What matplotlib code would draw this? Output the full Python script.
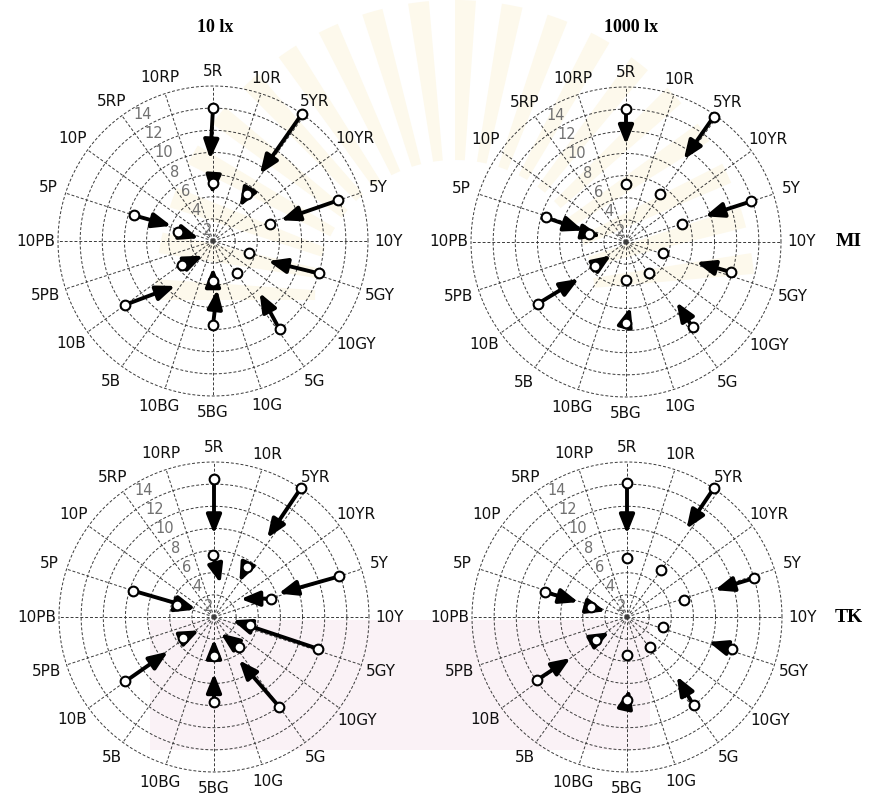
import numpy as np
import matplotlib
matplotlib.use("Agg")
import matplotlib.pyplot as plt
from matplotlib.patches import Wedge, Rectangle

# Munsell hue circle, clockwise from 5R at the top
hue_labels = ['5R', '10R', '5YR', '10YR', '5Y', '10Y', '5GY', '10GY', '5G', '10G',
              '5BG', '10BG', '5B', '10B', '5PB', '10PB', '5P', '10P', '5RP', '10RP']
chroma_rings = [2, 4, 6, 8, 10, 12, 14]

# samples: 8 high-chroma then 8 low-chroma; hue angle (deg) and chroma,
# at the physical sample (circle) and the perceived colour (arrow tip)
mi_10_start_hue = [90, 55, 18, -17, -53, -90, -144, 162, 90, 54, 17, -18, -53, -90, -142, 165]
mi_10_start_c = [12.0, 14.0, 11.9, 10.0, 10.0, 7.6, 9.8, 7.5, 5.2, 5.3, 5.4, 3.4, 3.6, 3.6, 3.5, 3.3]
mi_10_end_hue = [92, 55, 17, -20, -48, -85, -130, 160, 91, 52, 17, -18, -53, -90, -124, 169]
mi_10_end_c = [7.4, 7.4, 6.4, 5.3, 6.3, 4.4, 5.3, 4.0, 4.2, 3.9, 5.4, 3.4, 3.6, 2.4, 1.6, 1.3]

mi_1000_start_hue = [90, 55, 18, -16, -52, -90, -145, 163, 90, 55, 18, -17, -53, -90, -142, 167]
mi_1000_start_c = [12.0, 13.8, 11.9, 9.9, 9.8, 7.3, 9.7, 7.6, 5.2, 5.3, 5.3, 3.5, 3.5, 3.4, 3.5, 3.4]
mi_1000_end_hue = [90, 55, 18, -16, -50, -86, -142, 165, 90, 55, 18, -17, -53, -90, -138, 167]
mi_1000_end_c = [8.8, 9.1, 7.5, 6.6, 7.1, 5.9, 5.4, 4.0, 5.2, 5.3, 5.3, 3.5, 3.5, 3.4, 1.8, 2.3]

tk_10_start_hue = [90, 56, 18, -17, -54, -90, -144, 162, 91, 57, 18, -13, -50, -90, -146, 162]
tk_10_start_c = [12.5, 14.1, 11.9, 9.8, 10.0, 7.7, 9.9, 7.7, 5.6, 5.4, 5.4, 3.3, 3.5, 3.5, 3.4, 3.5]
tk_10_end_hue = [90, 56, 20, -10, -60, -90, -143, 156, 79, 54, 34, -13, -68, -90, -138, 160]
tk_10_end_c = [7.5, 8.6, 6.2, 1.7, 4.5, 5.1, 5.2, 1.8, 3.1, 3.9, 2.9, 3.3, 1.6, 2.0, 1.8, 1.9]

tk_1000_start_hue = [90, 56, 17, -17, -53, -90, -145, 163, 90, 54, 17, -16, -52, -90, -144, 165]
tk_1000_start_c = [12.1, 14.1, 12.0, 9.9, 10.0, 7.5, 9.9, 7.7, 5.3, 5.3, 5.4, 3.4, 3.4, 3.4, 3.5, 3.4]
tk_1000_end_hue = [90, 56, 17, -17, -50, -88, -144, 163, 90, 54, 17, -16, -52, -90, -139, 165]
tk_1000_end_c = [7.5, 9.6, 8.3, 7.7, 7.0, 6.5, 6.3, 4.6, 5.3, 5.3, 5.4, 3.4, 3.4, 3.4, 2.1, 2.0]

col_titles = ['10 lx', '1000 lx']
row_titles = ['MI', 'TK']

W, H = 871, 800
R_MAX = 15.0          # radial limit of each polar axes
R_PX = 155 * R_MAX / 14.0

narrow = ['Liberation Sans Narrow', 'DejaVu Sans']
serif = ['Liberation Serif', 'DejaVu Serif']


def hue_angle(i):
    return 90.0 - 18.0 * i


def draw_panel(ax, s_hue, s_c, e_hue, e_c):
    ax.set_ylim(0, R_MAX)
    ax.set_axis_off()
    grid = dict(color='#3a3a3a', lw=0.7, ls=(0, (3, 2)), zorder=1)
    th = np.linspace(0, 2 * np.pi, 400)
    for r in chroma_rings:
        ax.plot(th, np.full_like(th, r), **grid)
    for i in range(len(hue_labels)):
        a = np.deg2rad(hue_angle(i))
        ax.plot([a, a], [0, 14], **grid)

    # hue names round the rim
    for i, lab in enumerate(hue_labels):
        a = np.deg2rad(hue_angle(i))
        r = 15.4 + 0.15 * len(lab) * abs(np.cos(a)) - 0.1 * np.sin(a)
        ax.text(a, r, lab, ha='center', va='center', fontsize=11,
                family=narrow, color='#111111')

    # chroma scale along the 5RP side
    for c in chroma_rings:
        ax.text(np.deg2rad(119), c - 0.9, str(c), ha='center', va='center',
                fontsize=10.5, family=narrow, color='#707070', zorder=2)

    # arrows from the sample to its perceived colour
    for t0, c0, t1, c1 in zip(s_hue, s_c, e_hue, e_c):
        if abs(c0 - c1) < 0.05 and abs(t0 - t1) < 0.5:
            continue
        ax.annotate('', xy=(np.deg2rad(t1), c1), xytext=(np.deg2rad(t0), c0),
                    arrowprops=dict(arrowstyle='-|>,head_length=0.7,head_width=0.28',
                                    lw=2.8, color='black', mutation_scale=16,
                                    shrinkA=0, shrinkB=0), zorder=3)
    ax.plot(np.deg2rad(s_hue), s_c, 'o', ls='none', ms=7, mfc='white',
            mec='black', mew=1.5, zorder=4)


fig = plt.figure(figsize=(W / 100, H / 100), dpi=100)

# faint emblem printed behind the page
bg = fig.add_axes([0, 0, 1, 1])
bg.set_xlim(0, W)
bg.set_ylim(H, 0)
bg.set_axis_off()
for k in range(0, 180, 9):
    bg.add_patch(Wedge((455, 300), 300, 180 + k, 180 + k + 4, width=160,
                       color='#fdf9ec', lw=0))
bg.add_patch(Rectangle((150, 620), 500, 130, color='#faf2f6', lw=0))

panels = [
    ((213, 241), mi_10_start_hue, mi_10_start_c, mi_10_end_hue, mi_10_end_c),
    ((626, 242), mi_1000_start_hue, mi_1000_start_c, mi_1000_end_hue, mi_1000_end_c),
    ((214, 617), tk_10_start_hue, tk_10_start_c, tk_10_end_hue, tk_10_end_c),
    ((627, 617), tk_1000_start_hue, tk_1000_start_c, tk_1000_end_hue, tk_1000_end_c),
]

for (cx, cy), sh, sc, eh, ec in panels:
    ax = fig.add_axes([(cx - R_PX) / W, 1 - (cy + R_PX) / H, 2 * R_PX / W, 2 * R_PX / H],
                      projection='polar')
    draw_panel(ax, sh, sc, eh, ec)

for x, t in zip([215, 631], col_titles):
    fig.text(x / W, 1 - 27 / H, t, ha='center', va='center', fontsize=13,
             fontweight='bold', family=serif)
for y, t in zip([242, 617], row_titles):
    fig.text(849 / W, 1 - y / H, t, ha='center', va='center', fontsize=14,
             fontweight='bold', family=serif)

fig.savefig('out.png', dpi=100)
